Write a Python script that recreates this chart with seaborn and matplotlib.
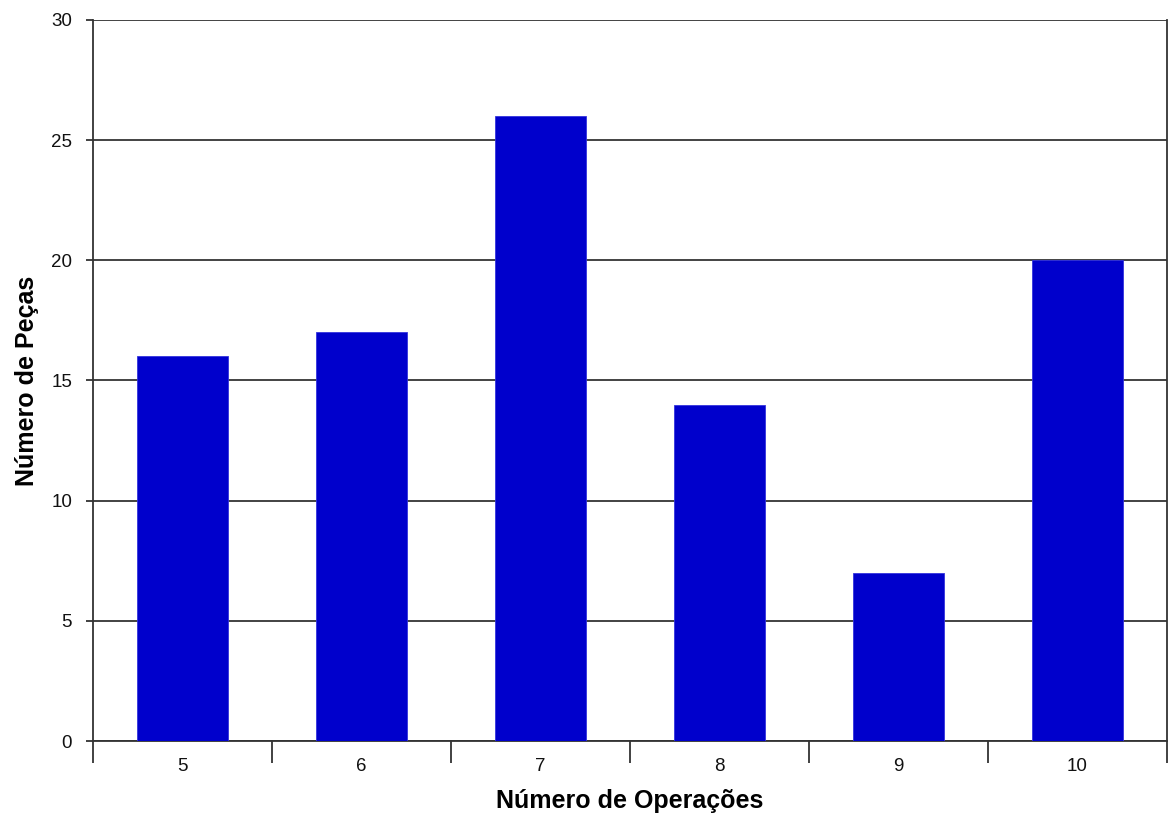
import matplotlib
matplotlib.use("Agg")
import matplotlib.pyplot as plt
import seaborn as sns
import pandas as pd
import numpy as np

operacoes = ["5", "6", "7", "8", "9", "10"]
pecas = [16, 17, 26, 14, 7, 20]
y_ticks = [0, 5, 10, 15, 20, 25, 30]

sns.set_theme(style="white")
plt.rcParams["font.family"] = ["Liberation Sans", "DejaVu Sans"]

df = pd.DataFrame({"Operações": operacoes, "Peças": pecas})

fig = plt.figure(figsize=(11.68, 8.21), dpi=100)
ax = fig.add_axes([93 / 1168, 1 - 741 / 821, (1167 - 93) / 1168, 721 / 821])

sns.barplot(data=df, x="Operações", y="Peças", order=operacoes,
            color="#0000CC", saturation=1, width=0.51,
            edgecolor="#3333DD", linewidth=0.6, ax=ax, zorder=3)

line_col = "#333333"
text_col = "#111111"
ax.set_ylim(0, 30)
ax.set_xlim(-0.5, len(operacoes) - 0.5)
ax.set_yticks(y_ticks)
ax.set_yticklabels([str(v) for v in y_ticks])
ax.yaxis.grid(True, color="#222222", linewidth=1.2, zorder=1)
ax.set_axisbelow(True)

# category labels centred, tick marks between categories
ax.set_xticks(np.arange(len(operacoes)))
ax.set_xticklabels(operacoes)
ax.set_xticks(np.arange(-0.5, len(operacoes)), minor=True)
ax.tick_params(axis="x", which="major", length=0, pad=12.5, labelsize=13.5, colors=text_col)
ax.tick_params(axis="x", which="minor", length=16, width=1.3, color=line_col, direction="out")
ax.tick_params(axis="y", which="major", length=5, width=1.3, color=line_col,
               direction="out", pad=10, labelsize=13.5, labelcolor=text_col)
ax.tick_params(left=True, bottom=True)
ax.xaxis.set_tick_params(which="minor", bottom=True)

for side in ["left", "bottom", "right", "top"]:
    ax.spines[side].set_visible(True)
    ax.spines[side].set_color(line_col)
    ax.spines[side].set_linewidth(1.3)
ax.spines["top"].set_visible(False)

ax.set_xlabel("Número de Operações", fontsize=18, fontweight="bold",
              color="#000000", labelpad=10)
ax.set_ylabel("Número de Peças", fontsize=18, fontweight="bold",
              color="#000000", labelpad=9)

fig.savefig("out.png", dpi=100, facecolor="white")
